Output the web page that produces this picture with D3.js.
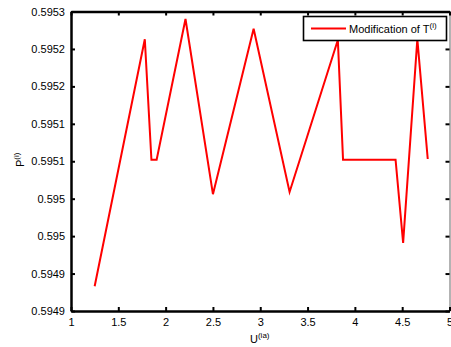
<!DOCTYPE html>
<html>
<head>
<meta charset="utf-8">
<script src="https://cdn.jsdelivr.net/npm/d3@7"></script>
<style>
  html, body { margin: 0; padding: 0; background: #fff; }
  svg { display: block; font-family: "Liberation Sans", Arial, sans-serif; }
</style>
</head>
<body>
<svg id="chart" width="451" height="347"></svg>
<script>
// ---- data ----
const xValues = [1.25, 1.78, 1.85, 1.905, 2.21, 2.5, 2.93, 3.31, 3.82, 3.875, 4.43, 4.51, 4.66, 4.77];
const yValues = [0.594883, 0.595213, 0.595052, 0.595052, 0.595240, 0.595006, 0.595227, 0.595009, 0.595212, 0.595052, 0.595052, 0.594941, 0.595213, 0.595053];
const xTickValues = [1, 1.5, 2, 2.5, 3, 3.5, 4, 4.5, 5];
const xTickLabels = ["1", "1.5", "2", "2.5", "3", "3.5", "4", "4.5", "5"];
const yTickValues = [0.59485, 0.5949, 0.59495, 0.595, 0.59505, 0.5951, 0.59515, 0.5952, 0.59525];
const yTickLabels = ["0.5949", "0.5949", "0.595", "0.595", "0.5951", "0.5951", "0.5952", "0.5952", "0.5953"];
const seriesName = "Modification of T";
const seriesSup = "(i)";

// ---- layout ----
const svg = d3.select("#chart");
const L = 71, R = 449.5, T = 11.5, B = 311;
const x = d3.scaleLinear().domain([1, 5]).range([L, R]);
const y = d3.scaleLinear().domain([0.59485, 0.59525]).range([B, T]);

const tickLen = 4;
const fontSize = 11;

// data line
const line = d3.line().x((d, i) => x(xValues[i])).y(d => y(d));
svg.append("path")
  .datum(yValues)
  .attr("d", line)
  .attr("fill", "none")
  .attr("stroke", "#ff0000")
  .attr("stroke-width", 2)
  .attr("stroke-linejoin", "miter");

// axes
const xb = d3.axisBottom(x).tickValues(xTickValues).tickSizeInner(-tickLen).tickSizeOuter(0)
  .tickPadding(7).tickFormat((d, i) => xTickLabels[i]);
const xt = d3.axisTop(x).tickValues(xTickValues).tickSizeInner(-tickLen).tickSizeOuter(0).tickFormat("");
const yl = d3.axisLeft(y).tickValues(yTickValues).tickSizeInner(-tickLen).tickSizeOuter(0)
  .tickPadding(6).tickFormat((d, i) => yTickLabels[i]);
const yr = d3.axisRight(y).tickValues(yTickValues).tickSizeInner(-tickLen).tickSizeOuter(0).tickFormat("");

function style(g, w) {
  g.select(".domain").attr("stroke", "#000").attr("stroke-width", w);
  g.selectAll(".tick line").attr("stroke", "#000").attr("stroke-width", 2);
  g.selectAll(".tick text").attr("fill", "#000").style("font-size", fontSize + "px")
    .style("font-family", "'Liberation Sans', Arial, sans-serif");
}
svg.append("g").attr("transform", `translate(0,${T})`).call(xt).call(g => style(g, 2.5));
svg.append("g").attr("transform", `translate(${R},0)`).call(yr).call(g => style(g, 0.6));
svg.append("g").attr("transform", `translate(0,${B})`).call(xb).call(g => style(g, 2.5));
svg.append("g").attr("transform", `translate(${L},0)`).call(yl).call(g => style(g, 2.5));

// axis labels
const xl = svg.append("text").attr("x", 250).attr("y", 343)
  .style("font-size", fontSize + "px").attr("fill", "#000");
xl.append("tspan").text("U");
xl.append("tspan").attr("dy", -5).style("font-size", "8px").text("(ia)");

const ylab = svg.append("text").attr("transform", "translate(24,167) rotate(-90)")
  .style("font-size", fontSize + "px").attr("fill", "#000");
ylab.append("tspan").text("P");
ylab.append("tspan").attr("dy", -5).style("font-size", "8px").text("(i)");

// legend
const lg = svg.append("g");
lg.append("rect").attr("x", 303.5).attr("y", 16.5).attr("width", 143).attr("height", 24)
  .attr("fill", "#fff").attr("stroke", "#000").attr("stroke-width", 1.6);
lg.append("line").attr("x1", 311).attr("x2", 346).attr("y1", 28.5).attr("y2", 28.5)
  .attr("stroke", "#ff0000").attr("stroke-width", 2);
const lt = lg.append("text").attr("x", 349).attr("y", 33)
  .style("font-size", fontSize + "px").attr("fill", "#000");
lt.append("tspan").text(seriesName);
lt.append("tspan").attr("dy", -5).style("font-size", "8px").text(seriesSup);
</script>
</body>
</html>
